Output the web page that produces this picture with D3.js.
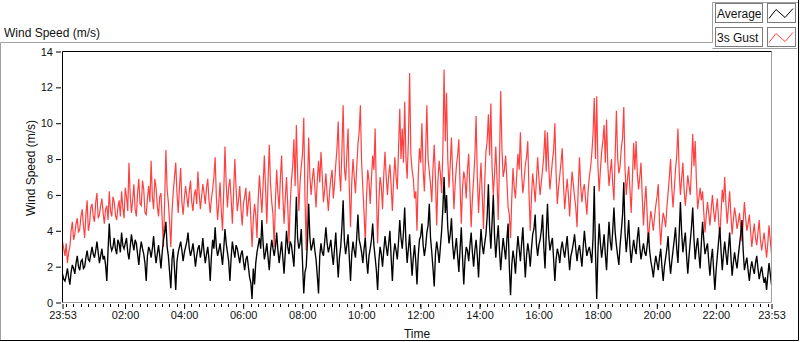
<!DOCTYPE html>
<html>
<head>
<meta charset="utf-8">
<script src="https://cdn.jsdelivr.net/npm/d3@7"></script>
<style>
  body { margin: 0; background: #fff; }
  svg { display: block; font-family: "Liberation Sans", Arial, sans-serif; }
  .tick-label { font-size: 11px; fill: #111; }
  .title { font-size: 12px; fill: #111; }
</style>
</head>
<body>
<svg id="chart" width="800" height="342"></svg>
<script>
// samples every 2.5 minutes, starting 23:53 (one row = one hour)
const startTime = new Date(2020, 0, 1, 23, 53);
const stepMinutes = 2.5;

const gustValues = [
  3.4, 3.0, 2.6, 3.3, 2.2, 2.8, 3.1, 4.0, 4.5, 3.5, 3.8, 4.4, 4.7, 3.9, 4.1, 4.8, 5.2, 4.3, 3.6, 4.9, 5.7, 4.0, 4.4, 5.3,
  5.5, 4.8, 4.5, 5.6, 6.1, 4.7, 4.9, 5.4, 5.8, 5.0, 4.4, 5.2, 5.4, 4.6, 6.2, 5.1, 4.8, 5.9, 5.6, 4.9, 4.6, 5.3, 5.7, 4.8,
  6.2, 5.3, 4.7, 6.4, 5.9, 5.1, 7.8, 6.0, 5.0, 5.7, 6.6, 5.2, 4.8, 6.1, 6.9, 5.5, 5.4, 6.8, 6.3, 5.0, 4.9, 5.8, 6.5, 5.6,
  7.9, 5.9, 5.2, 6.9, 6.4, 5.4, 4.8, 5.9, 6.1, 4.6, 3.1, 5.7, 8.5, 6.3, 5.6, 4.5, 3.1, 5.1, 6.2, 7.0, 7.8, 6.1, 5.0, 6.4,
  7.5, 5.6, 4.9, 5.8, 6.5, 5.9, 5.3, 6.2, 6.8, 5.6, 5.1, 6.0, 6.3, 5.5, 7.3, 6.1, 5.2, 5.9, 6.6, 6.1, 5.5, 6.4, 6.9, 5.7,
  5.0, 5.8, 6.3, 7.0, 8.1, 5.9, 4.6, 5.6, 6.7, 5.1, 4.0, 6.2, 8.7, 6.6, 5.3, 6.4, 6.9, 5.8, 4.4, 6.1, 8.0, 6.4, 5.1, 5.7,
  6.5, 5.2, 4.3, 5.5, 5.9, 6.4, 4.8, 5.6, 6.2, 4.7, 3.1, 4.6, 5.5, 4.9, 3.6, 5.8, 7.1, 6.0, 5.0, 6.6, 8.2, 6.3, 4.4, 6.8,
  8.8, 6.6, 5.6, 4.9, 3.1, 5.7, 7.4, 6.1, 5.2, 6.9, 8.2, 6.0, 4.4, 5.8, 7.0, 5.4, 3.3, 5.5, 6.8, 7.6, 9.1, 6.5, 9.9, 7.2,
  5.1, 6.7, 7.6, 8.3, 10.3, 5.8, 2.9, 6.5, 9.2, 7.0, 6.0, 6.9, 7.5, 6.4, 5.3, 6.8, 7.9, 6.7, 8.4, 7.1, 5.6, 6.3, 7.2, 6.0,
  5.1, 6.2, 6.9, 7.4, 5.8, 6.6, 7.7, 8.6, 10.1, 7.3, 6.2, 8.5, 11.0, 7.5, 6.8, 8.2, 9.7, 6.4, 4.2, 6.7, 8.0, 7.0, 6.1, 7.5,
  8.8, 9.5, 11.0, 7.8, 6.4, 5.0, 3.3, 5.9, 7.4, 6.8, 5.5, 6.9, 8.2, 7.4, 9.7, 6.2, 3.3, 5.6, 7.0, 6.5, 5.2, 7.1, 8.4, 7.0,
  6.0, 7.1, 7.7, 6.5, 5.1, 6.8, 8.1, 7.0, 6.3, 8.6, 10.8, 8.0, 9.7, 7.8, 11.2, 8.1, 6.9, 9.0, 12.8, 8.3, 7.4, 6.9, 5.8, 6.2,
  4.0, 7.0, 8.6, 7.8, 10.0, 7.4, 6.2, 8.3, 11.0, 8.0, 7.3, 6.6, 5.6, 7.5, 8.8, 6.9, 4.3, 6.8, 7.9, 7.2, 6.1, 8.4, 13.0, 9.0,
  11.7, 8.0, 6.4, 7.7, 9.2, 7.1, 5.2, 6.6, 7.6, 8.2, 9.1, 6.5, 4.4, 6.4, 7.3, 6.9, 5.8, 7.4, 8.3, 6.2, 4.2, 5.8, 6.9, 8.1,
  10.4, 7.0, 5.0, 6.5, 7.8, 6.0, 4.1, 6.7, 8.4, 9.0, 10.5, 8.2, 11.1, 7.5, 6.0, 7.2, 8.7, 6.9, 4.6, 7.8, 11.8, 8.6, 7.0, 7.4,
  8.2, 6.9, 5.3, 4.9, 3.6, 5.8, 7.5, 6.4, 5.8, 7.1, 8.3, 7.4, 9.5, 7.2, 6.1, 6.8, 7.7, 8.1, 9.0, 6.1, 4.0, 5.9, 7.2, 6.5,
  5.6, 6.8, 8.1, 7.0, 6.0, 6.7, 7.4, 8.2, 9.6, 7.3, 9.5, 7.6, 6.3, 7.1, 7.9, 8.5, 10.0, 7.2, 5.5, 6.4, 7.1, 7.8, 8.6, 6.6,
  5.2, 6.1, 6.9, 6.0, 4.8, 6.2, 7.3, 6.6, 5.9, 5.3, 4.2, 6.4, 8.1, 6.5, 5.6, 6.3, 6.6, 5.7, 4.9, 6.2, 7.0, 7.5, 8.3, 9.4,
  11.4, 8.0, 11.5, 7.6, 6.2, 7.4, 8.4, 9.0, 9.9, 7.8, 10.2, 7.7, 6.5, 7.3, 8.0, 6.6, 5.7, 8.2, 10.7, 8.1, 7.2, 7.6, 8.6, 9.2,
  10.9, 7.5, 6.0, 6.9, 7.6, 6.3, 5.0, 6.9, 8.9, 7.4, 9.0, 7.2, 6.3, 7.0, 7.8, 5.9, 4.3, 5.6, 6.5, 4.9, 3.3, 4.4, 5.1, 4.6,
  4.0, 4.8, 5.4, 5.9, 6.6, 4.5, 3.2, 4.3, 5.0, 4.7, 4.2, 5.3, 6.1, 7.0, 8.0, 6.4, 5.3, 6.3, 7.4, 8.2, 9.7, 7.3, 6.0, 6.9,
  7.8, 6.3, 5.4, 6.2, 7.1, 6.5, 6.0, 7.5, 9.4, 7.6, 9.0, 6.8, 5.2, 5.8, 6.4, 5.7, 6.2, 5.0, 3.9, 4.9, 5.6, 5.0, 4.3, 5.2,
  6.0, 5.1, 4.5, 5.2, 5.8, 4.6, 3.6, 5.0, 6.3, 5.6, 7.0, 5.5, 4.4, 5.3, 6.2, 4.9, 3.8, 4.6, 5.3, 4.8, 4.1, 4.5, 5.0, 4.2,
  3.4, 4.5, 5.6, 4.7, 4.0, 4.4, 4.9, 4.0, 3.1, 3.8, 4.4, 3.6, 3.2, 3.9, 4.6, 3.5, 2.9, 3.4, 3.9, 3.2, 2.5, 3.3, 4.3, 3.5,
  2.7
];

const averageValues = [
  1.6, 1.3, 1.2, 1.5, 1.9, 1.4, 1.0, 1.7, 2.1, 1.9, 1.6, 2.2, 2.6, 2.0, 1.8, 2.3, 2.4, 1.9, 2.0, 2.5, 2.9, 2.4, 2.3, 2.7,
  3.1, 2.7, 2.5, 2.9, 3.4, 2.8, 2.2, 2.6, 3.0, 2.4, 2.6, 2.1, 1.2, 2.9, 4.4, 3.2, 2.9, 3.1, 3.6, 3.0, 2.7, 3.5, 3.3, 2.8,
  3.9, 3.2, 3.0, 3.3, 3.6, 2.8, 2.4, 3.1, 3.8, 3.3, 2.9, 3.5, 3.3, 2.7, 2.1, 2.9, 3.4, 3.0, 2.7, 2.2, 1.2, 2.6, 3.1, 2.9,
  2.5, 3.0, 3.7, 2.8, 2.2, 2.7, 3.2, 2.6, 1.9, 2.8, 3.5, 3.9, 4.5, 3.1, 2.6, 1.7, 0.8, 2.4, 3.0, 1.9, 0.7, 2.3, 2.8, 3.1,
  3.4, 2.9, 2.3, 2.8, 3.1, 3.4, 3.9, 3.0, 2.6, 2.9, 3.3, 2.7, 2.0, 2.6, 3.0, 3.2, 2.5, 2.9, 3.6, 2.8, 2.2, 2.7, 3.1, 2.4,
  1.2, 2.6, 3.5, 3.0, 4.2, 3.1, 2.6, 2.9, 3.3, 2.7, 2.1, 3.0, 4.1, 3.3, 2.8, 2.3, 1.2, 2.5, 3.4, 2.9, 2.5, 3.2, 3.0, 2.6,
  2.2, 2.7, 2.9, 2.3, 1.8, 2.4, 2.6, 2.0, 1.4, 1.1, 0.2, 1.9, 1.0, 2.2, 2.8, 3.2, 3.6, 3.0, 4.6, 3.3, 2.4, 2.8, 3.3, 2.5,
  1.8, 2.9, 3.5, 3.0, 2.6, 3.1, 3.9, 2.9, 2.2, 2.8, 3.4, 2.5, 1.6, 2.8, 4.0, 3.1, 2.7, 3.4, 3.2, 2.6, 2.0, 3.7, 5.9, 3.6,
  3.0, 3.3, 4.1, 2.2, 0.5, 1.7, 2.0, 3.4, 5.5, 3.6, 2.9, 3.2, 3.6, 2.9, 2.4, 1.5, 0.5, 2.6, 3.3, 2.8, 2.6, 3.4, 4.2, 3.3,
  2.8, 3.1, 3.5, 2.7, 2.1, 3.0, 3.9, 2.6, 1.4, 2.5, 3.1, 4.2, 5.7, 3.4, 2.7, 3.2, 3.8, 2.5, 1.2, 2.7, 3.4, 2.9, 2.5, 3.6,
  4.9, 3.5, 3.2, 2.8, 2.2, 3.0, 3.6, 2.4, 1.6, 2.6, 3.0, 3.5, 4.4, 3.2, 2.5, 1.8, 0.7, 2.3, 3.1, 2.7, 2.0, 2.9, 3.7, 3.1,
  2.6, 3.3, 4.0, 2.5, 1.2, 2.7, 3.3, 2.9, 2.4, 3.4, 4.6, 3.6, 3.0, 3.9, 5.3, 3.4, 2.2, 3.0, 3.8, 2.6, 1.5, 2.5, 3.2, 2.3,
  1.0, 2.6, 3.5, 3.7, 4.4, 3.2, 2.6, 3.1, 3.9, 4.3, 5.5, 3.6, 2.8, 1.9, 0.9, 2.7, 3.4, 2.9, 2.2, 3.1, 4.0, 5.2, 7.0, 5.0,
  6.0, 4.2, 3.3, 3.8, 4.7, 3.2, 2.4, 3.0, 3.6, 2.6, 1.7, 3.0, 4.2, 2.5, 1.0, 2.4, 3.1, 2.9, 2.3, 3.2, 3.9, 2.8, 2.0, 2.9,
  3.5, 2.6, 1.4, 2.9, 4.1, 3.2, 2.7, 3.3, 3.8, 4.8, 6.6, 4.2, 3.0, 4.5, 6.0, 3.7, 2.5, 3.5, 4.3, 2.9, 1.8, 2.8, 3.6, 3.0,
  2.4, 3.5, 4.4, 2.0, 0.4, 2.1, 2.9, 2.4, 1.6, 2.8, 3.7, 3.0, 2.3, 3.3, 4.2, 2.7, 1.4, 2.6, 3.3, 2.8, 2.0, 3.0, 3.8, 4.1,
  4.9, 3.3, 2.6, 3.2, 3.5, 4.0, 4.9, 3.1, 1.9, 3.8, 5.5, 3.7, 2.9, 3.3, 3.6, 2.4, 1.2, 2.4, 3.0, 2.7, 2.2, 3.0, 3.4, 2.9,
  2.5, 3.1, 3.7, 2.7, 1.8, 2.6, 2.9, 3.3, 3.8, 3.0, 2.3, 2.9, 3.2, 2.6, 2.0, 3.1, 4.0, 3.2, 2.6, 2.9, 3.1, 2.7, 2.2, 3.6,
  6.5, 2.8, 0.2, 2.9, 4.4, 3.3, 2.5, 3.1, 3.8, 2.7, 1.8, 3.3, 4.5, 3.4, 2.9, 4.0, 5.3, 3.9, 3.2, 2.6, 2.1, 3.2, 4.0, 4.9,
  6.7, 3.9, 2.8, 3.6, 4.6, 3.1, 2.2, 2.9, 3.5, 3.0, 2.7, 3.6, 4.2, 3.1, 2.4, 2.9, 3.3, 2.8, 2.6, 3.2, 3.9, 2.9, 2.3, 1.9,
  1.4, 2.1, 2.6, 2.2, 1.8, 2.5, 3.0, 2.0, 1.2, 2.0, 2.5, 3.0, 3.7, 2.4, 1.6, 2.3, 2.9, 3.5, 4.2, 3.0, 2.2, 3.8, 5.6, 3.9,
  2.8, 3.4, 3.9, 2.6, 1.6, 2.6, 3.4, 4.2, 5.3, 3.6, 2.4, 3.1, 3.6, 2.7, 1.9, 3.3, 4.5, 3.5, 2.7, 3.0, 3.3, 2.3, 1.5, 2.4,
  3.0, 1.8, 0.7, 1.8, 2.6, 3.4, 4.2, 2.9, 1.8, 2.7, 3.4, 2.7, 2.1, 3.0, 3.9, 2.6, 1.5, 2.2, 2.8, 2.3, 1.9, 2.6, 3.2, 3.8,
  4.6, 2.9, 1.8, 2.2, 2.5, 1.8, 1.2, 1.9, 2.3, 1.9, 1.6, 2.2, 2.6, 1.9, 1.3, 1.7, 2.0, 1.5, 1.1, 1.4, 0.7, 1.5, 2.2, 1.6,
  1.0
];

const yTicks = [0, 2, 4, 6, 8, 10, 12, 14];
const xTickHours = [2, 4, 6, 8, 10, 12, 14, 16, 18, 20, 22];

const endTime = d3.timeHour.offset(startTime, 24);
const timeOf = i => new Date(startTime.getTime() + i * stepMinutes * 60000);

const svg = d3.select("#chart");

const x = d3.scaleTime().domain([startTime, endTime]).range([62.5, 771.5]);
const y = d3.scaleLinear().domain([0, 14]).range([302.5, 51.5]);

// outer frame (gray top/left, black right/bottom)
svg.append("path").attr("d", "M0.5,340 V42.5 H712.5 V2.5 H798")
  .attr("fill", "none").attr("stroke", "#a0a0a0");
svg.append("path").attr("d", "M712.5,48.5 H797")
  .attr("fill", "none").attr("stroke", "#a0a0a0");
svg.append("path").attr("d", "M798.5,0 V340.5 H0")
  .attr("fill", "none").attr("stroke", "#000");

// title
svg.append("text").attr("class", "title").attr("x", 4).attr("y", 37).text("Wind Speed (m/s)");

// plot area
svg.append("rect").attr("x", 62.5).attr("y", 51.5).attr("width", 709).attr("height", 251)
  .attr("fill", "#fff");

// lines
const line = d3.line()
  .x((d, i) => x(timeOf(i)))
  .y(d => y(d));

const plot = svg.append("g");
plot.append("path").datum(gustValues)
  .attr("d", line).attr("fill", "none").attr("stroke", "#ff4040").attr("stroke-width", 1.2);
plot.append("path").datum(averageValues)
  .attr("d", line).attr("fill", "none").attr("stroke", "#000").attr("stroke-width", 1.35);

// plot borders
svg.append("path").attr("d", "M771.5,51.5 V302.5 H62.5")
  .attr("fill", "none").attr("stroke", "#a0a0a0");
svg.append("path").attr("d", "M62.5,302.5 V51.5 H771.5")
  .attr("fill", "none").attr("stroke", "#000");

// y axis
const yAxis = d3.axisLeft(y).tickValues(yTicks).tickSize(6).tickPadding(3);
const gy = svg.append("g").attr("transform", "translate(62,0)").call(yAxis);
gy.select(".domain").remove();
gy.selectAll("line").attr("stroke", "#000").attr("x2", -6).attr("x1", -1);
gy.selectAll("text").attr("class", "tick-label").attr("font-family", null).attr("font-size", null);

// x axis: major ticks at start, even hours and end; minor every 15 min
const xMajor = [startTime, ...xTickHours.map(h => new Date(2020, 0, 2, h, 0)), endTime];
const xMinor = d3.timeMinute.every(15).range(startTime, endTime);

svg.append("g").selectAll("line").data(xMinor).join("line")
  .attr("x1", d => Math.round(x(d)) + 0.5).attr("x2", d => Math.round(x(d)) + 0.5)
  .attr("y1", 304).attr("y2", 307).attr("stroke", "#000");

const xAxis = d3.axisBottom(x).tickValues(xMajor).tickFormat(d3.timeFormat("%H:%M"))
  .tickSize(6).tickPadding(3);
const gx = svg.append("g").attr("transform", "translate(0,303)").call(xAxis);
gx.select(".domain").remove();
gx.selectAll("line").attr("stroke", "#000").attr("y1", 1);
gx.selectAll("text").attr("class", "tick-label").attr("font-family", null).attr("font-size", null)
  .attr("dy", null).attr("y", 16);

// axis titles
svg.append("text").attr("class", "title").attr("text-anchor", "middle")
  .attr("x", 417).attr("y", 338).text("Time");
svg.append("text").attr("class", "title").attr("text-anchor", "middle")
  .attr("transform", "translate(35,168) rotate(-90)").text("Wind Speed (m/s)");

// legend
const legendItems = [
  { name: "Average", color: "#000" },
  { name: "3s Gust", color: "#ff4040" }
];
const swatch = d3.line();
legendItems.forEach((d, i) => {
  const top = 3.5 + i * 24;
  svg.append("rect").attr("x", 715.5).attr("y", top).attr("width", 47).attr("height", 19)
    .attr("fill", "#fff").attr("stroke", "#7a7a7a");
  svg.append("text").attr("class", "title").attr("x", 717).attr("y", top + 14.5).text(d.name);
  svg.append("rect").attr("x", 767.5).attr("y", top).attr("width", 28).attr("height", 19)
    .attr("fill", "#fff").attr("stroke", "#7a7a7a");
  svg.append("path")
    .attr("d", swatch([[769, top + 15], [776, top + 6], [785, top + 14], [793, top + 5]]))
    .attr("fill", "none").attr("stroke", d.color);
});
</script>
</body>
</html>
